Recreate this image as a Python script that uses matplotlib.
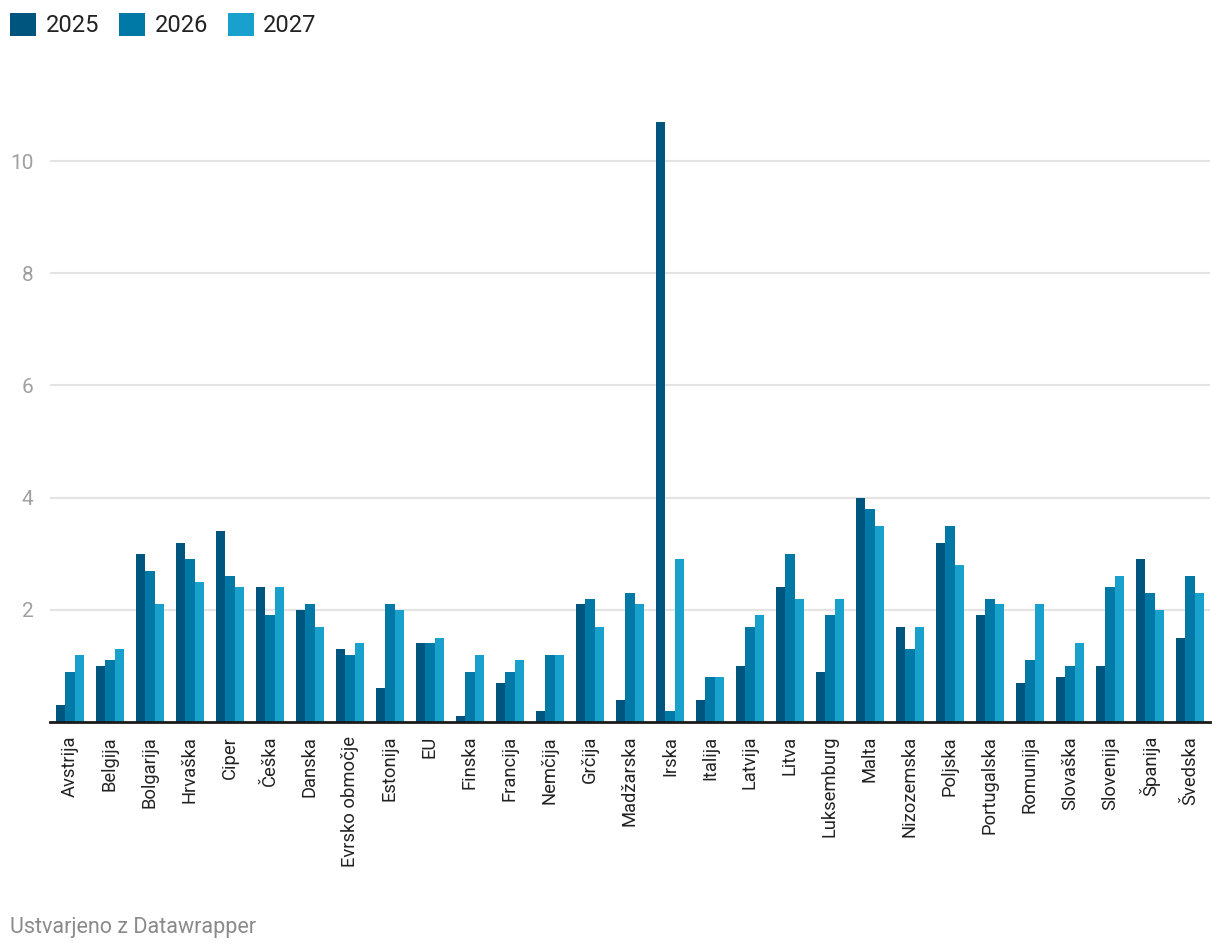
import matplotlib.pyplot as plt
import numpy as np

plt.rcParams['font.family'] = ['Roboto', 'DejaVu Sans']

countries = ["Avstrija", "Belgija", "Bolgarija", "Hrvaška", "Ciper", "Češka", "Danska",
             "Evrsko območje", "Estonija", "EU", "Finska", "Francija", "Nemčija", "Grčija",
             "Madžarska", "Irska", "Italija", "Latvija", "Litva", "Luksemburg", "Malta",
             "Nizozemska", "Poljska", "Portugalska", "Romunija", "Slovaška", "Slovenija",
             "Španija", "Švedska"]
y2025 = [0.3, 1.0, 3.0, 3.2, 3.4, 2.4, 2.0, 1.3, 0.6, 1.4, 0.1, 0.7, 0.2, 2.1, 0.4,
         10.7, 0.4, 1.0, 2.4, 0.9, 4.0, 1.7, 3.2, 1.9, 0.7, 0.8, 1.0, 2.9, 1.5]
y2026 = [0.9, 1.1, 2.7, 2.9, 2.6, 1.9, 2.1, 1.2, 2.1, 1.4, 0.9, 0.9, 1.2, 2.2, 2.3,
         0.2, 0.8, 1.7, 3.0, 1.9, 3.8, 1.3, 3.5, 2.2, 1.1, 1.0, 2.4, 2.3, 2.6]
y2027 = [1.2, 1.3, 2.1, 2.5, 2.4, 2.4, 1.7, 1.4, 2.0, 1.5, 1.2, 1.1, 1.2, 1.7, 2.1,
         2.9, 0.8, 1.9, 2.2, 2.2, 3.5, 1.7, 2.8, 2.1, 2.1, 1.4, 2.6, 2.0, 2.3]
years = ["2025", "2026", "2027"]
colors = ["#00557f", "#0079a6", "#18a1cd"]
yticks = [2, 4, 6, 8, 10]

fig = plt.figure(figsize=(12.2, 9.52), dpi=100)
ax = fig.add_axes([50 / 1220, 230 / 952, 1160 / 1220, (722 - 105) / 952])

x = np.arange(len(countries))
w = 0.233
for i, (vals, c, lab) in enumerate(zip([y2025, y2026, y2027], colors, years)):
    ax.bar(x + (i - 1) * w, vals, width=w, color=c, label=lab, zorder=3)

ax.set_xlim(-0.5, len(countries) - 0.5)
ax.set_ylim(0, 11)
ax.set_yticks(yticks)
ax.set_yticklabels([str(t) for t in yticks])
ax.grid(axis='y', color='#e3e3e3', linewidth=1.5, zorder=0)
for s in ['top', 'right', 'left']:
    ax.spines[s].set_visible(False)
ax.spines['bottom'].set_color('#1a1a1a')
ax.spines['bottom'].set_linewidth(2)
ax.spines['bottom'].set_zorder(4)

ax.set_xticks(x)
ax.set_xticklabels(countries, rotation=90, ha='center', va='top', fontsize=13.2, color='#222222')
ax.tick_params(axis='x', length=0, pad=10)
ax.tick_params(axis='y', length=0, pad=12, labelsize=15, labelcolor='#a0a0a0')

fig.legend(loc='upper left', bbox_to_anchor=(10 / 1220, 1 - 13 / 952), ncol=3, frameon=False,
           fontsize=17, handlelength=1.1, handleheight=1.1, handletextpad=0.4,
           columnspacing=0.85, borderaxespad=0, borderpad=0, labelcolor='#222222')

fig.text(10 / 1220, 1 - 927 / 952, "Ustvarjeno z Datawrapper", fontsize=15.5,
         color='#8a8a8a', va='center', ha='left')

fig.savefig("out.png", dpi=100)
